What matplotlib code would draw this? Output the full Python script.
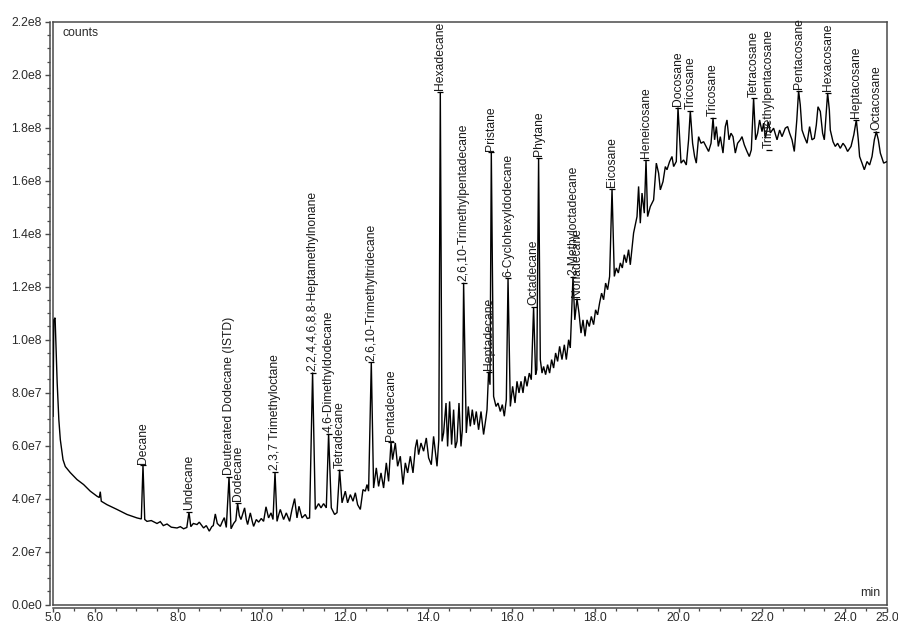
import matplotlib
matplotlib.use("Agg")
import matplotlib.pyplot as plt
import numpy as np

plt.rcParams['font.family'] = ['Liberation Sans', 'DejaVu Sans']

# Total ion chromatogram: retention time (min) and abundance (millions of counts)
rt_min = [
    5.00, 5.02, 5.05, 5.10, 5.14, 5.175, 5.24, 5.295, 5.415, 5.575, 5.734, 5.894, 6.055,
    6.11, 6.134, 6.158, 6.295, 6.535, 6.775, 7.014, 7.118, 7.158, 7.20,
    7.254, 7.357, 7.494, 7.573, 7.645, 7.734, 7.837, 7.974, 8.053, 8.132, 8.209, 8.261,
    8.305, 8.365, 8.453, 8.508, 8.611, 8.676, 8.748, 8.808, 8.844, 8.892, 8.94, 9.012,
    9.06, 9.108, 9.156, 9.221, 9.269, 9.331, 9.384, 9.427, 9.468, 9.508, 9.552, 9.595,
    9.636, 9.667, 9.732, 9.78, 9.811, 9.876, 9.931, 9.995, 10.05, 10.108, 10.17, 10.228,
    10.276, 10.324, 10.372, 10.415, 10.451, 10.53, 10.595, 10.674, 10.731, 10.794, 10.851,
    10.899, 10.971, 11.05, 11.098, 11.153, 11.225, 11.29, 11.369, 11.427, 11.489, 11.554,
    11.609, 11.674, 11.753, 11.811, 11.873, 11.931, 12.01, 12.065, 12.13, 12.194, 12.25,
    12.305, 12.37, 12.434, 12.49, 12.53, 12.568, 12.633, 12.688, 12.753, 12.808, 12.866,
    12.928, 12.993, 13.048, 13.106, 13.144, 13.209, 13.264, 13.329, 13.393, 13.449, 13.504,
    13.569, 13.633, 13.688, 13.729, 13.767, 13.825, 13.887, 13.952, 14.007, 14.072, 14.127,
    14.209, 14.252, 14.288, 14.329, 14.367, 14.425, 14.463, 14.511, 14.559, 14.607, 14.648,
    14.689, 14.736, 14.784, 14.816, 14.847, 14.911, 14.959, 15.007, 15.055, 15.103, 15.151,
    15.206, 15.264, 15.326, 15.384, 15.408, 15.446, 15.48, 15.511, 15.566, 15.624, 15.672,
    15.727, 15.775, 15.823, 15.871, 15.912, 15.967, 16.022, 16.08, 16.127, 16.175, 16.223,
    16.271, 16.319, 16.367, 16.422, 16.47, 16.525, 16.573, 16.602, 16.645, 16.686, 16.727,
    16.765, 16.813, 16.861, 16.909, 16.957, 17.005, 17.053, 17.101, 17.149, 17.206, 17.262,
    17.31, 17.365, 17.405, 17.47, 17.513, 17.566, 17.614, 17.662, 17.71, 17.758, 17.806,
    17.861, 17.909, 17.964, 18.012, 18.06, 18.108, 18.156, 18.204, 18.252, 18.30, 18.348,
    18.406, 18.461, 18.509, 18.557, 18.605, 18.653, 18.70, 18.748, 18.803, 18.844, 18.923,
    19.005, 19.043, 19.084, 19.125, 19.18, 19.221, 19.259, 19.324, 19.403, 19.468, 19.523,
    19.564, 19.628, 19.684, 19.724, 19.787, 19.844, 19.883, 19.947, 19.988, 20.06, 20.122,
    20.187, 20.242, 20.283, 20.338, 20.386, 20.427, 20.482, 20.54, 20.602, 20.66, 20.722,
    20.78, 20.828, 20.866, 20.907, 20.955, 21.003, 21.067, 21.122, 21.163, 21.211, 21.259,
    21.307, 21.362, 21.417, 21.482, 21.523, 21.578, 21.643, 21.698, 21.746, 21.801, 21.849,
    21.897, 21.945, 22.003, 22.041, 22.082, 22.161, 22.202, 22.281, 22.363, 22.425, 22.482,
    22.561, 22.617, 22.665, 22.722, 22.777, 22.837, 22.88, 22.92, 22.962, 23.017, 23.082,
    23.144, 23.201, 23.257, 23.305, 23.345, 23.401, 23.456, 23.497, 23.54, 23.576, 23.617,
    23.64, 23.705, 23.76, 23.815, 23.88, 23.945, 24.00, 24.055, 24.137, 24.204, 24.264,
    24.312, 24.343, 24.401, 24.456, 24.521, 24.583, 24.641, 24.696, 24.744, 24.792, 24.84,
    24.92, 25.0,
]
abundance_m = [
    71.1, 107.5, 108.3, 83.8, 69.8, 62.3, 54.7, 52.1, 49.8, 47.2, 45.3, 42.8, 40.9,
    40.4, 42.6, 39.0, 37.7, 35.9, 34.0, 32.7, 32.3, 52.6, 32.1,
    31.4, 31.7, 30.6, 31.3, 29.8, 30.4, 29.2, 28.9, 29.4, 28.6, 29.1, 34.9,
    29.4, 30.6, 30.2, 31.1, 28.9, 29.8, 27.7, 29.4, 29.8, 34.2, 30.6, 29.5,
    31.3, 32.8, 29.1, 48.1, 28.6, 30.6, 31.7, 38.3, 33.6, 32.1, 34.3, 36.5,
    32.1, 30.2, 34.6, 31.3, 29.5, 32.1, 31.1, 32.5, 31.4, 36.9, 32.7, 34.6,
    32.1, 50.0, 31.4, 34.0, 35.9, 32.1, 34.6, 31.4, 35.9, 40.0, 32.7,
    37.1, 32.7, 34.0, 32.5, 32.7, 87.6, 35.9, 38.1, 36.5, 38.1, 36.5,
    64.5, 36.5, 34.0, 34.7, 50.9, 38.4, 42.8, 38.4, 41.5, 39.0, 42.2,
    37.7, 35.9, 43.4, 42.8, 45.3, 42.8, 91.5, 44.0, 51.6, 44.6, 49.7,
    44.0, 53.5, 46.5, 61.3, 54.7, 61.0, 52.2, 56.0, 45.3, 53.5, 49.7,
    56.0, 49.7, 59.1, 62.3, 56.6, 61.0, 57.9, 62.9, 55.4, 52.8, 63.5,
    52.2, 62.3, 193.6, 61.6, 64.8, 76.1, 59.7, 76.7, 60.4, 73.6, 59.1,
    61.6, 76.1, 59.7, 66.0, 121.5, 64.8, 74.8, 67.3, 73.6, 67.9, 72.9,
    66.0, 72.9, 64.2, 70.6, 73.6, 87.9, 83.0, 170.8, 78.6, 74.8, 76.1,
    72.9, 75.5, 71.1, 77.4, 123.2, 74.8, 82.4, 76.1, 84.3, 79.9, 84.3,
    79.9, 86.2, 82.4, 87.4, 84.9, 112.3, 86.8, 88.7, 168.6, 92.5, 87.4,
    89.9, 86.8, 90.6, 87.4, 92.5, 89.3, 95.0, 91.8, 97.5, 92.5, 98.1,
    92.5, 100.0, 96.9, 123.8, 107.5, 115.5, 110.1, 102.5, 107.5, 101.3, 107.5,
    105.0, 108.8, 105.7, 111.3, 109.4, 113.9, 117.6, 115.1, 121.4, 118.9, 123.9,
    157.0, 123.9, 127.1, 125.2, 129.0, 127.1, 132.1, 129.1, 134.0, 128.3, 140.3,
    146.5, 157.9, 144.0, 155.4, 147.8, 167.9, 146.5, 150.3, 152.8, 166.7, 162.9,
    156.6, 159.7, 165.4, 164.2, 167.3, 169.2, 165.4, 167.3, 187.7, 166.7, 167.9,
    166.0, 175.5, 186.4, 174.2, 169.2, 166.7, 176.7, 174.2, 174.8, 173.0, 171.1,
    174.2, 183.8, 175.5, 180.5, 173.0, 176.7, 170.5, 180.5, 183.0, 175.5, 178.0,
    176.7, 170.5, 174.2, 175.5, 176.7, 173.6, 171.1, 169.2, 171.7, 191.2, 175.5,
    178.0, 183.0, 178.6, 181.8, 176.1, 182.3, 178.1, 179.9, 175.5, 179.2, 176.7,
    179.9, 180.5, 178.0, 175.5, 171.1, 183.0, 194.0, 188.7, 179.2, 176.7, 174.2,
    180.5, 175.5, 176.1, 181.1, 188.0, 186.2, 178.0, 175.5, 184.9, 193.2, 186.8,
    179.2, 174.8, 173.0, 174.2, 172.3, 174.2, 173.0, 171.1, 173.0, 177.4, 183.0,
    175.5, 169.2, 166.7, 164.2, 167.3, 166.0, 169.2, 175.5, 178.6, 175.5, 170.5,
    166.7, 167.3,
]

# Identified compounds: retention time of the apex and where the name sits (millions of counts)
compound_names = [
    "Decane", "Undecane", "Deuterated Dodecane (ISTD)", "Dodecane",
    "2,3,7 Trimethyloctane", "2,2,4,4,6,8,8-Heptamethylnonane", "4,6-Dimethyldodecane",
    "Tetradecane", "2,6,10-Trimethyltridecane", "Pentadecane", "Hexadecane",
    "2,6,10-Trimethylpentadecane", "Heptadecane", "Pristane", "6-Cyclohexyldodecane",
    "Octadecane", "Phytane", "2-Methyloctadecane", "Nonadecane", "Eicosane",
    "Heneicosane", "Docosane", "Tricosane", "Tricosane", "Tetracosane",
    "Trimethylpentacosane", "Pentacosane", "Hexacosane", "Heptacosane", "Octacosane",
]
compound_rt = [
    7.158, 8.261, 9.221, 9.427, 10.324, 11.225, 11.609, 11.873, 12.633, 13.106, 14.288,
    14.847, 15.446, 15.511, 15.912, 16.525, 16.645, 17.47, 17.566, 18.406,
    19.221, 19.988, 20.283, 20.828, 21.801, 22.161, 22.88, 23.576, 24.264, 24.744,
]
compound_label_m = [
    52.6, 34.9, 48.1, 38.3, 50.0, 87.6, 64.5, 50.9, 91.5, 61.3, 193.6,
    121.5, 87.9, 170.8, 123.2, 112.3, 168.6, 123.8, 115.5, 157.0,
    167.9, 187.7, 186.4, 183.8, 191.2, 171.7, 194.0, 193.2, 183.0, 178.6,
]

# Axis ticks
x_major = [5.0, 6.0, 8.0, 10.0, 12.0, 14.0, 16.0, 18.0, 20.0, 22.0, 24.0, 25.0]
x_major_labels = ["5.0", "6.0", "8.0", "10.0", "12.0", "14.0", "16.0", "18.0",
                  "20.0", "22.0", "24.0", "25.0"]
y_major = [0, 2e7, 4e7, 6e7, 8e7, 1.0e8, 1.2e8, 1.4e8, 1.6e8, 1.8e8, 2.0e8, 2.2e8]
y_major_labels = ["0.0e0", "2.0e7", "4.0e7", "6.0e7", "8.0e7", "1.0e8", "1.2e8",
                  "1.4e8", "1.6e8", "1.8e8", "2.0e8", "2.2e8"]

W, H = 898, 626
fig = plt.figure(figsize=(W / 100, H / 100), dpi=100)
ax = fig.add_axes([53 / W, 21.5 / H, 834 / W, 582.5 / H])

frame_col = "#4a4a4a"
text_col = "#2b2b2b"

t = np.array(rt_min)
y = np.array(abundance_m) * 1e6
ax.plot(t, y, color="black", lw=1.0, solid_joinstyle="miter", zorder=3)

ax.set_xlim(5.0, 25.0)
ax.set_ylim(0, 2.2e8)

# compound labels with apex tick
for name, rt, lab in zip(compound_names, compound_rt, compound_label_m):
    yy = lab * 1e6
    ax.plot([rt], [yy], marker="_", ms=5, mew=0.9, color="black", zorder=4, clip_on=False)
    ax.annotate(name, xy=(rt, yy), xytext=(0, 1.2), textcoords="offset points",
                rotation=90, ha="center", va="bottom", fontsize=8.7,
                color="#1a1a1a", annotation_clip=False, zorder=5)

# outer axis lines carrying the ticks, inner frame around the plot
for side in ("left", "bottom"):
    ax.spines[side].set_position(("outward", 2.3))
    ax.spines[side].set_color(frame_col)
    ax.spines[side].set_linewidth(1.1)
for side in ("top", "right"):
    ax.spines[side].set_color(frame_col)
    ax.spines[side].set_linewidth(1.1)
ax.plot([0, 0], [0, 1], transform=ax.transAxes, color=frame_col, lw=1.1, clip_on=False)
ax.plot([0, 1], [0, 0], transform=ax.transAxes, color=frame_col, lw=1.1, clip_on=False)

ax.set_xticks(x_major)
ax.set_xticklabels(x_major_labels)
ax.set_xticks(np.arange(5.0, 25.01, 0.5), minor=True)
ax.set_yticks(y_major)
ax.set_yticklabels(y_major_labels)
ax.set_yticks(np.arange(0, 2.2e8 + 1, 0.05e8), minor=True)
ax.tick_params(which="major", direction="out", length=3.8, width=1.0, color=frame_col,
               labelsize=8.8, labelcolor=text_col, pad=2)
ax.tick_params(axis="x", which="major", length=3.0, pad=0.3)
ax.tick_params(which="minor", direction="out", length=2.0, width=0.9, color=frame_col)

ax.text(0.011, 0.981, "counts", transform=ax.transAxes, ha="left", va="center",
        fontsize=8.8, color=text_col)
ax.text(0.992, 0.019, "min", transform=ax.transAxes, ha="right", va="center",
        fontsize=8.8, color=text_col)

fig.savefig("out.png", dpi=100)
